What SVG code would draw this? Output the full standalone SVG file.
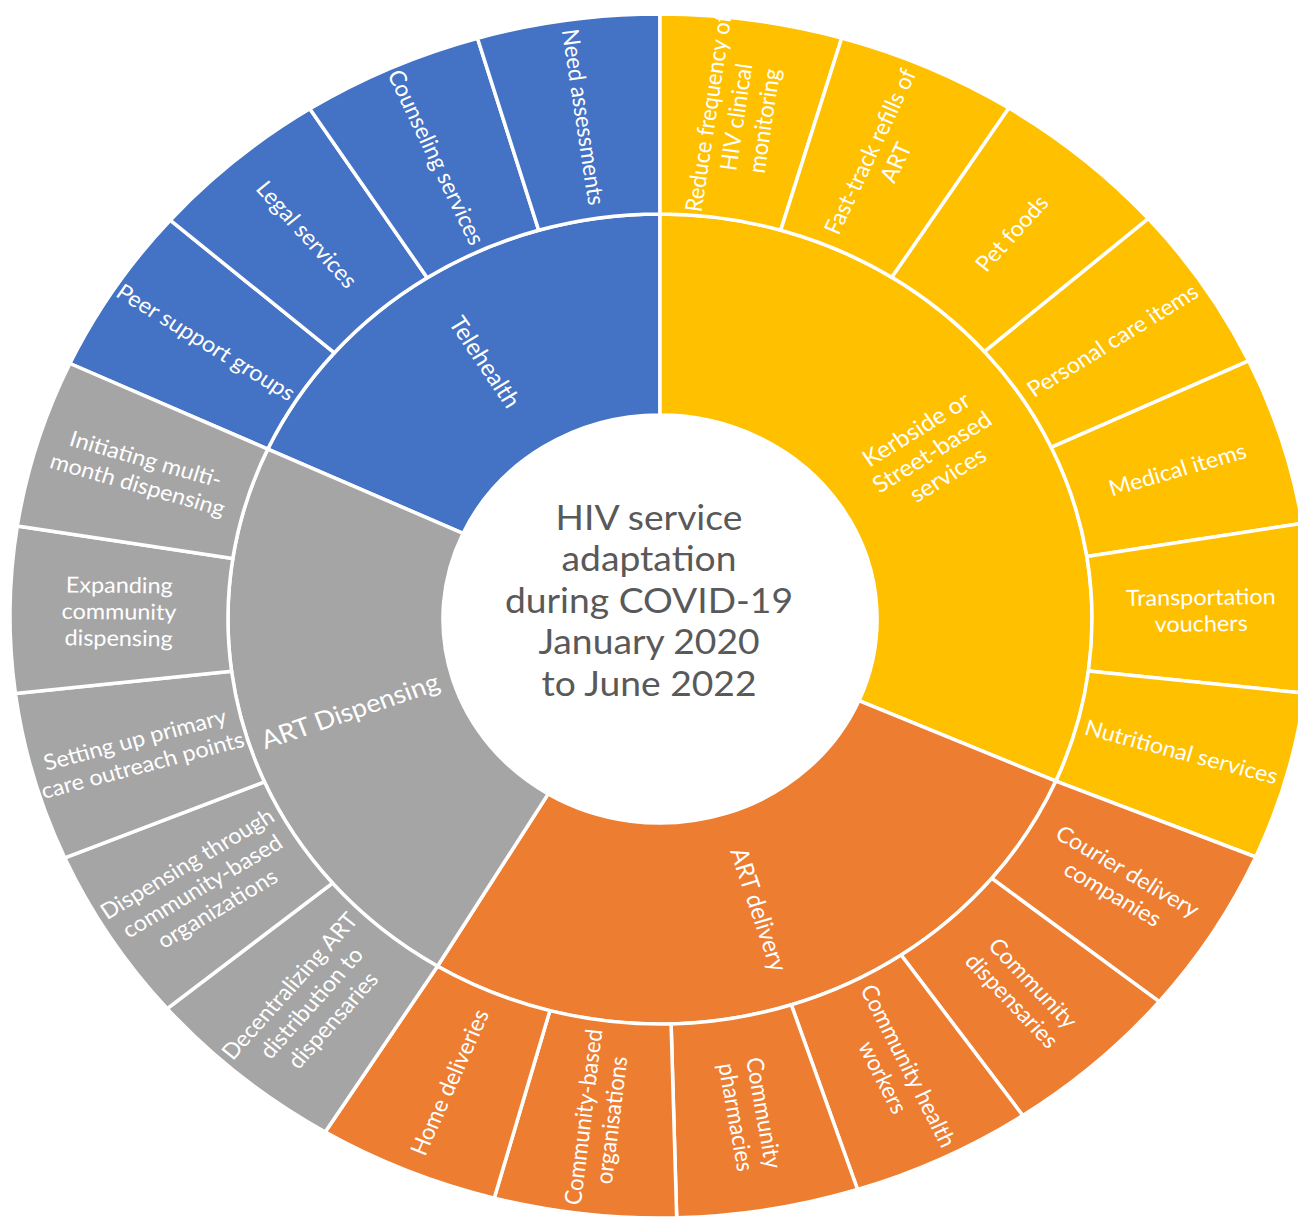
<svg xmlns="http://www.w3.org/2000/svg" width="1298" height="1220" viewBox="0 0 1298 1220">
  <style>
    .seg { stroke: #ffffff; stroke-width: 3.5; stroke-linejoin: round; }
    .blue { fill: #4472C4; }
    .gold { fill: #FFC000; }
    .orange { fill: #ED7D31; }
    .grey { fill: #A5A5A5; }
    .lbl { font-family: Lato, "Liberation Sans", sans-serif; font-size: 22px; fill: #ffffff; text-anchor: middle; }
    .cat { font-family: Lato, "Liberation Sans", sans-serif; font-size: 23px; fill: #ffffff; text-anchor: middle; }
    .big { font-size: 25.5px; }
    .title { font-family: Lato, "Liberation Sans", sans-serif; font-size: 35px; fill: #595959; text-anchor: middle; }
  </style>
  <rect width="1298" height="1220" fill="#ffffff"/>

  <!-- inner ring: categories -->
  <g id="telehealth">
    <path class="seg blue" d="M 463.0 533.4 L 267.8 449.1 A 432 405 0 0 1 660 214 L 660 415 A 217 204 0 0 0 463.0 533.4 Z"/>
    <text class="cat" transform="translate(484.9 362) scale(1.064 1) rotate(57.4)"><tspan x="0" y="8">Telehealth</tspan></text>
  </g>
  <g id="kerbside">
    <path class="seg gold" d="M 660 415 L 660 214 A 432 405 0 0 1 1055.9 781.1 L 858.9 700.7 A 217 204 0 0 0 660 415 Z"/>
    <text class="cat" transform="translate(932 452) scale(1.064 1) rotate(-33.2)"><tspan x="0" y="-19">Kerbside or</tspan><tspan x="0" y="8">Street-based</tspan><tspan x="0" y="35">services</tspan></text>
  </g>
  <g id="art-delivery">
    <path class="seg orange" d="M 858.9 700.7 L 1055.9 781.1 A 432 405 0 0 1 437.5 966.2 L 548.2 793.9 A 217 204 0 0 0 858.9 700.7 Z"/>
    <text class="cat" transform="translate(758.8 909.6) scale(1.064 1) rotate(72.3)"><tspan x="0" y="8">ART delivery</tspan></text>
  </g>
  <g id="art-dispensing">
    <path class="seg grey" d="M 548.2 793.9 L 437.5 966.2 A 432 405 0 0 1 267.8 449.1 L 463.0 533.4 A 217 204 0 0 0 548.2 793.9 Z"/>
    <text class="cat big" transform="translate(350 711) scale(1.064 1) rotate(-20)"><tspan x="0" y="9">ART Dispensing</tspan></text>
  </g>

  <!-- outer ring: Telehealth -->
  <g id="peer-support">
    <path class="seg blue" d="M 267.8 449.1 L 69.9 363.5 A 650 602 0 0 1 170.2 220.2 L 334.4 352.8 A 432 405 0 0 0 267.8 449.1 Z"/>
    <text class="lbl" transform="translate(206 342.2) scale(1.064 1) rotate(32.95)"><tspan x="0" y="7.7">Peer support groups</tspan></text>
  </g>
  <g id="legal-services">
    <path class="seg blue" d="M 334.4 352.8 L 170.2 220.2 A 650 602 0 0 1 309.8 108.8 L 427.2 277.8 A 432 405 0 0 0 334.4 352.8 Z"/>
    <text class="lbl" transform="translate(306.9 234.4) scale(1.064 1) rotate(49.25)"><tspan x="0" y="7.7">Legal services</tspan></text>
  </g>
  <g id="counseling">
    <path class="seg blue" d="M 427.2 277.8 L 309.8 108.8 A 650 602 0 0 1 477.5 38.2 L 538.7 230.3 A 432 405 0 0 0 427.2 277.8 Z"/>
    <text class="lbl" transform="translate(436.1 157.3) scale(1.064 1) rotate(65.55)"><tspan x="0" y="7.7">Counseling services</tspan></text>
  </g>
  <g id="need-assessments">
    <path class="seg blue" d="M 538.7 230.3 L 477.5 38.2 A 650 602 0 0 1 660 14 L 660 214 A 432 405 0 0 0 538.7 230.3 Z"/>
    <text class="lbl" transform="translate(583.3 117.1) scale(1.064 1) rotate(81.85)"><tspan x="0" y="7.7">Need assessments</tspan></text>
  </g>

  <!-- outer ring: Kerbside or Street-based services -->
  <g id="reduce-frequency">
    <path class="seg gold" d="M 660 214 L 660 14 A 650 602 0 0 1 841.7 38.0 L 780.7 230.2 A 432 405 0 0 0 660 214 Z"/>
    <text class="lbl" transform="translate(736.3 117) scale(1.064 1) rotate(-81.89)"><tspan x="0" y="-18.8">Reduce frequency of</tspan><tspan x="0" y="7.7">HIV clinical</tspan><tspan x="0" y="34.2">monitoring</tspan></text>
  </g>
  <g id="fast-track">
    <path class="seg gold" d="M 780.7 230.2 L 841.7 38.0 A 650 602 0 0 1 1008.9 108.1 L 891.9 277.3 A 432 405 0 0 0 780.7 230.2 Z"/>
    <text class="lbl" transform="translate(883 156.9) scale(1.064 1) rotate(-65.66)"><tspan x="0" y="-5.55">Fast-track refills of</tspan><tspan x="0" y="20.95">ART</tspan></text>
  </g>
  <g id="pet-foods">
    <path class="seg gold" d="M 891.9 277.3 L 1008.9 108.1 A 650 602 0 0 1 1148.3 218.6 L 984.5 351.6 A 432 405 0 0 0 891.9 277.3 Z"/>
    <text class="lbl" transform="translate(1011.8 233.4) scale(1.064 1) rotate(-49.43)"><tspan x="0" y="7.7">Pet foods</tspan></text>
  </g>
  <g id="personal-care">
    <path class="seg gold" d="M 984.5 351.6 L 1148.3 218.6 A 650 602 0 0 1 1248.6 360.8 L 1051.2 447.3 A 432 405 0 0 0 984.5 351.6 Z"/>
    <text class="lbl" transform="translate(1112.7 340.5) scale(1.064 1) rotate(-33.2)"><tspan x="0" y="7.7">Personal care items</tspan></text>
  </g>
  <g id="medical-items">
    <path class="seg gold" d="M 1051.2 447.3 L 1248.6 360.8 A 650 602 0 0 1 1302.3 523.3 L 1086.9 556.6 A 432 405 0 0 0 1051.2 447.3 Z"/>
    <text class="lbl" transform="translate(1177.5 469.6) scale(1.064 1) rotate(-16.97)"><tspan x="0" y="7.7">Medical items</tspan></text>
  </g>
  <g id="transportation">
    <path class="seg gold" d="M 1086.9 556.6 L 1302.3 523.3 A 650 602 0 0 1 1304.6 693.2 L 1088.4 671.0 A 432 405 0 0 0 1086.9 556.6 Z"/>
    <text class="lbl" transform="translate(1201 610.5) scale(1.064 1) rotate(-0.74)"><tspan x="0" y="-5.55">Transportation</tspan><tspan x="0" y="20.95">vouchers</tspan></text>
  </g>
  <g id="nutritional">
    <path class="seg gold" d="M 1088.4 671.0 L 1304.6 693.2 A 650 602 0 0 1 1255.7 857.0 L 1055.9 781.1 A 432 405 0 0 0 1088.4 671.0 Z"/>
    <text class="lbl" transform="translate(1181.4 751.9) scale(1.064 1) rotate(15.49)"><tspan x="0" y="7.7">Nutritional services</tspan></text>
  </g>

  <!-- outer ring: ART delivery -->
  <g id="courier">
    <path class="seg orange" d="M 1055.9 781.1 L 1255.7 857.0 A 650 602 0 0 1 1159.2 1001.6 L 991.8 878.4 A 432 405 0 0 0 1055.9 781.1 Z"/>
    <text class="lbl" transform="translate(1120.2 882.6) scale(1.064 1) rotate(31.72)"><tspan x="0" y="-5.55">Courier delivery</tspan><tspan x="0" y="20.95">companies</tspan></text>
  </g>
  <g id="community-dispensaries">
    <path class="seg orange" d="M 991.8 878.4 L 1159.2 1001.6 A 650 602 0 0 1 1022.8 1115.5 L 901.1 955.0 A 432 405 0 0 0 991.8 878.4 Z"/>
    <text class="lbl" transform="translate(1022.5 991.9) scale(1.064 1) rotate(47.95)"><tspan x="0" y="-5.55">Community</tspan><tspan x="0" y="20.95">dispensaries</tspan></text>
  </g>
  <g id="community-health-workers">
    <path class="seg orange" d="M 901.1 955.0 L 1022.8 1115.5 A 650 602 0 0 1 857.6 1189.5 L 791.3 1004.8 A 432 405 0 0 0 901.1 955.0 Z"/>
    <text class="lbl" transform="translate(895.6 1071.6) scale(1.064 1) rotate(64.18)"><tspan x="0" y="-5.55">Community health</tspan><tspan x="0" y="20.95">workers</tspan></text>
  </g>
  <g id="community-pharmacies">
    <path class="seg orange" d="M 791.3 1004.8 L 857.6 1189.5 A 650 602 0 0 1 676.7 1217.8 L 671.1 1023.9 A 432 405 0 0 0 791.3 1004.8 Z"/>
    <text class="lbl" transform="translate(750 1115) scale(1.064 1) rotate(80.42)"><tspan x="0" y="-5.55">Community</tspan><tspan x="0" y="20.95">pharmacies</tspan></text>
  </g>
  <g id="community-based-organisations">
    <path class="seg orange" d="M 671.1 1023.9 L 676.7 1217.8 A 650 602 0 0 1 494.3 1198.1 L 549.9 1010.6 A 432 405 0 0 0 671.1 1023.9 Z"/>
    <text class="lbl" transform="translate(597.4 1118.6) scale(1.064 1) rotate(-83.35)"><tspan x="0" y="-5.55">Community-based</tspan><tspan x="0" y="20.95">organisations</tspan></text>
  </g>
  <g id="home-deliveries">
    <path class="seg orange" d="M 549.9 1010.6 L 494.3 1198.1 A 650 602 0 0 1 325.2 1132.0 L 437.5 966.2 A 432 405 0 0 0 549.9 1010.6 Z"/>
    <text class="lbl" transform="translate(449.7 1082.3) scale(1.064 1) rotate(-67.12)"><tspan x="0" y="7.7">Home deliveries</tspan></text>
  </g>

  <!-- outer ring: ART Dispensing -->
  <g id="decentralizing">
    <path class="seg grey" d="M 437.5 966.2 L 325.2 1132.0 A 650 602 0 0 1 167.2 1008.6 L 332.5 883.1 A 432 405 0 0 0 437.5 966.2 Z"/>
    <text class="lbl" transform="translate(311.2 1003) scale(1.064 1) rotate(-49.85)"><tspan x="0" y="-18.8">Decentralizing ART</tspan><tspan x="0" y="7.7">distribution to</tspan><tspan x="0" y="34.2">dispensaries</tspan></text>
  </g>
  <g id="dispensing-cbo">
    <path class="seg grey" d="M 332.5 883.1 L 167.2 1008.6 A 650 602 0 0 1 64.8 857.9 L 264.4 781.8 A 432 405 0 0 0 332.5 883.1 Z"/>
    <text class="lbl" transform="translate(202.2 886.1) scale(1.064 1) rotate(-32.2)"><tspan x="0" y="-18.8">Dispensing through</tspan><tspan x="0" y="7.7">community-based</tspan><tspan x="0" y="34.2">organizations</tspan></text>
  </g>
  <g id="primary-care-outreach">
    <path class="seg grey" d="M 264.4 781.8 L 64.8 857.9 A 650 602 0 0 1 15.4 693.5 L 231.6 671.2 A 432 405 0 0 0 264.4 781.8 Z"/>
    <text class="lbl" transform="translate(138.8 752.4) scale(1.064 1) rotate(-15.55)"><tspan x="0" y="-5.55">Setting up primary</tspan><tspan x="0" y="20.95">care outreach points</tspan></text>
  </g>
  <g id="expanding-community">
    <path class="seg grey" d="M 231.6 671.2 L 15.4 693.5 A 650 602 0 0 1 17.3 526.0 L 232.8 558.5 A 432 405 0 0 0 231.6 671.2 Z"/>
    <text class="lbl" transform="translate(119 611.7) scale(1.064 1) rotate(0.6)"><tspan x="0" y="-18.8">Expanding</tspan><tspan x="0" y="7.7">community</tspan><tspan x="0" y="34.2">dispensing</tspan></text>
  </g>
  <g id="multi-month">
    <path class="seg grey" d="M 232.8 558.5 L 17.3 526.0 A 650 602 0 0 1 69.9 363.5 L 267.8 449.1 A 432 405 0 0 0 232.8 558.5 Z"/>
    <text class="lbl" transform="translate(141.8 471.9) scale(1.064 1) rotate(16.7)"><tspan x="0" y="-5.55">Initiating multi-</tspan><tspan x="0" y="20.95">month dispensing</tspan></text>
  </g>

  <!-- centre title -->
  <g id="centre-title">
    <text class="title" transform="translate(649 0) scale(1.064 1)"><tspan x="0" y="530">HIV service</tspan><tspan x="0" y="571.5">adaptation</tspan><tspan x="0" y="613">during COVID-19</tspan><tspan x="0" y="654.5">January 2020</tspan><tspan x="0" y="696">to June 2022</tspan></text>
  </g>
</svg>
